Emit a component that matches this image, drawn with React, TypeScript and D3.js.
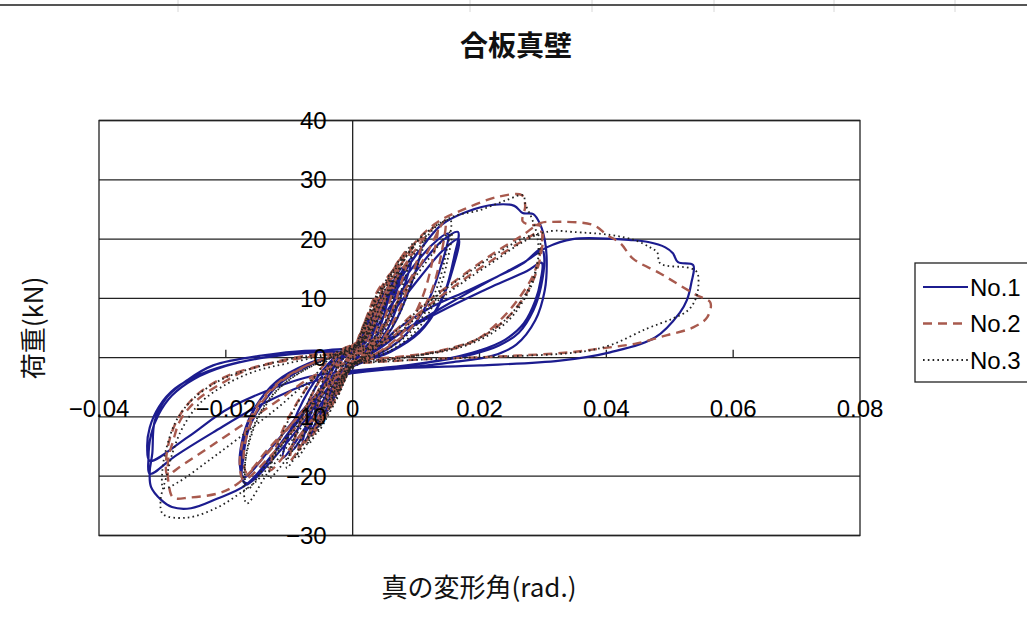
import * as d3 from "d3";

type Pt = [number, number];

// 真の変形角 (rad) / 荷重 (kN)
const no1Small: Pt[] = [
  [0, 0], [0.0008, 2.6], [0.0015, 4.2], [0.0022, 5.5], [0.0017, 3.2], [0.0009, 1.0], [0, -0.4], [-0.0008, -2.4], [-0.0015, -3.9], [-0.0022, -5.2], [-0.0017, -3.0], [-0.0009, -1.0], [0, 0.4],
  [0.0008, 2.4], [0.0018, 4.8], [0.0027, 6.8], [0.0035, 8.2], [0.0028, 5.0], [0.0016, 1.6], [0.0004, -0.6], [-0.0008, -2.4], [-0.0018, -4.8], [-0.0028, -6.6], [-0.0036, -8.0], [-0.0029, -4.8], [-0.0016, -1.4], [-0.0004, 0.5],
  [0.001, 2.8], [0.0024, 6.2], [0.0038, 9.0], [0.0049, 10.6], [0.0041, 7.0], [0.0027, 2.6], [0.0012, -0.2], [-0.0006, -1.8], [-0.0022, -5.2], [-0.004, -9.0], [-0.0056, -11.8], [-0.0046, -7.6], [-0.003, -2.8], [-0.0012, 0.3],
  [0.0008, 2.0], [0.0025, 5.6], [0.0045, 10.0], [0.0063, 13.0], [0.0054, 9.0], [0.0037, 3.4], [0.0016, 0], [-0.0004, -1.4], [-0.0025, -5.4], [-0.0048, -10.0], [-0.0068, -13.2], [-0.0058, -8.6], [-0.0038, -3.2], [-0.0014, 0.4],
  [0.001, 1.8], [0.0032, 6.2], [0.0056, 11.2], [0.0078, 15.2], [0.0067, 10.4], [0.0045, 4.0], [0.002, 0.2], [-0.0004, -1.4], [-0.003, -5.8], [-0.0056, -10.6], [-0.0079, -14.6], [-0.0067, -9.8], [-0.0043, -3.6], [-0.0016, 0.6],
  [0.0012, 2.0], [0.0038, 7.0], [0.0066, 12.4], [0.0093, 16.8], [0.008, 11.6], [0.0054, 4.6], [0.0024, 0.4], [-0.0004, -1.2], [-0.0034, -5.8], [-0.0066, -11.2], [-0.0095, -15.6], [-0.0081, -10.4], [-0.0052, -3.8], [-0.0018, 0.8],
  [0.0014, 2.2], [0.0044, 7.6], [0.0076, 13.4], [0.0107, 18.2], [0.0093, 12.6], [0.0062, 5.0], [0.0028, 0.5], [-0.0004, -1.2], [-0.004, -6.2], [-0.0076, -12.0], [-0.011, -16.9], [-0.0094, -11.0], [-0.006, -4.0], [-0.002, 0.8],
];
const no1Mid: Pt[] = [
  [0.0015, 2.4], [0.005, 8.4], [0.009, 14.6], [0.0125, 19.0], [0.015, 20.9], [0.0138, 15.0], [0.0112, 8.0], [0.0075, 3.0], [0.004, 0.6], [0.001, -0.6],
  [-0.003, -4.0], [-0.0075, -10.5], [-0.0125, -17.0], [-0.0165, -21.2], [-0.0174, -20.5], [-0.0172, -16.5], [-0.0165, -12.4], [-0.0145, -8.2], [-0.0115, -4.4], [-0.007, -1.4], [-0.003, 0.2],
  [0.0015, 2.0], [0.0055, 8.0], [0.01, 14.6], [0.014, 19.6], [0.0166, 21.2], [0.016, 17.0], [0.0145, 11.0], [0.0115, 5.6], [0.0075, 2.0], [0.0035, 0], [0, -1.0],
  [-0.004, -4.4], [-0.0085, -10.6], [-0.013, -16.8], [-0.0168, -21.4], [-0.0176, -19.6], [-0.0174, -15.6], [-0.0166, -11.4], [-0.0145, -7.0], [-0.011, -3.4], [-0.006, -0.8], [-0.002, 0.6],
  [0.002, 1.8], [0.006, 7.2], [0.0105, 13.4], [0.0145, 18.4], [0.0167, 20.0], [0.0158, 15.0], [0.0138, 9.2], [0.0105, 4.2], [0.006, 1.0], [0.002, -0.6],
  [-0.003, -3.2], [-0.008, -9.0], [-0.013, -15.4], [-0.0172, -20.2], [-0.0178, -18.0], [-0.0172, -13.0], [-0.0155, -8.6], [-0.012, -4.0], [-0.007, -1.0], [-0.002, 0.6],
];
const no1Large: Pt[] = [
  [0.002, 3.0], [0.006, 11.0], [0.0105, 18.0], [0.014, 22.4], [0.018, 24.6], [0.0224, 25.8], [0.0255, 25.6], [0.0268, 24.4], [0.0285, 24.2], [0.0296, 22.4], [0.0303, 19.8], [0.0306, 16.4], [0.0303, 11.4], [0.0288, 6.3], [0.0258, 2.2], [0.022, 0.3], [0.0155, -0.8], [0.0075, -1.8], [0, -2.6],
  [-0.004, -4.4], [-0.009, -11.0], [-0.0135, -17.6], [-0.017, -21.6], [-0.0214, -23.8], [-0.0255, -25.4], [-0.0285, -25.2], [-0.0302, -24.0], [-0.0318, -21.8], [-0.032, -19.2], [-0.0316, -16.2], [-0.0312, -10.6], [-0.0293, -6.7], [-0.0261, -3.8], [-0.022, -1.3], [-0.0141, 0.4], [-0.0056, 1.2],
  [0.002, 0.2], [0.007, 4.8], [0.0122, 8.4], [0.0175, 11.0], [0.0227, 13.6], [0.027, 16.0], [0.0298, 18.4], [0.0302, 17.0], [0.0297, 12.0], [0.0285, 8.0], [0.0262, 4.2], [0.023, 2.0], [0.019, 0.6], [0.012, -0.8], [0.005, -1.8], [0, -2.4],
  [-0.005, -3.6], [-0.0146, -8.0], [-0.022, -12.6], [-0.028, -16.6], [-0.032, -19.6], [-0.0322, -17.0], [-0.0318, -13.0], [-0.0306, -9.6], [-0.0285, -6.4], [-0.025, -3.6], [-0.02, -1.4], [-0.013, 0.2], [-0.006, 1.0], [0, 1.4],
  [0.002, 0.4], [0.008, 4.4], [0.015, 8.4], [0.022, 12.0], [0.0275, 14.6], [0.0298, 16.0], [0.0296, 12.8], [0.0288, 9.6], [0.027, 5.8], [0.024, 3.0], [0.02, 1.2], [0.013, -0.6], [0.006, -1.6], [0, -2.2],
  [-0.0075, -3.4], [-0.0193, -8.4], [-0.026, -13.4], [-0.032, -17.4], [-0.0324, -15.2], [-0.032, -11.8], [-0.0305, -8.2], [-0.028, -5.2], [-0.024, -2.8], [-0.018, -0.8], [-0.011, 0.4], [-0.004, 1.0],
];
const no1Final: Pt[] = [
  [0.002, 1.2], [0.008, 4.6], [0.015, 9.0], [0.022, 13.2], [0.0275, 16.4], [0.0306, 18.6], [0.0347, 20.0], [0.0442, 19.8], [0.0466, 19.5], [0.0493, 18.6], [0.0505, 17.6], [0.0513, 16.1], [0.0537, 15.6],
  [0.0534, 12.6], [0.0527, 9.7], [0.0516, 7.6], [0.0477, 3.4], [0.0406, 0.9], [0.0327, -0.5], [0.0201, -1.3], [0.0075, -1.8], [0, -2.6],
];

const no2Small: Pt[] = [
  [0, 0], [0.0008, 3.0], [0.0015, 5.0], [0.0022, 6.6], [0.0016, 3.6], [0.0008, 1.0], [0, -0.4], [-0.0008, -2.6], [-0.0015, -4.2], [-0.0022, -5.6], [-0.0016, -3.0], [-0.0008, -0.8], [0, 0.6],
  [0.0009, 3.0], [0.0019, 6.0], [0.0028, 8.4], [0.0036, 10.0], [0.0029, 6.2], [0.0017, 2.0], [0.0004, -0.4], [-0.0009, -2.8], [-0.0019, -5.2], [-0.0028, -7.2], [-0.0036, -8.6], [-0.0029, -5.0], [-0.0016, -1.4], [-0.0004, 0.6],
  [0.0011, 3.4], [0.0024, 7.4], [0.0036, 10.6], [0.0046, 12.2], [0.0039, 8.2], [0.0026, 3.2], [0.0011, 0], [-0.0006, -2.0], [-0.0022, -5.6], [-0.0038, -9.0], [-0.0052, -11.4], [-0.0043, -7.4], [-0.0028, -2.8], [-0.0011, 0.4],
  [0.001, 2.6], [0.0026, 7.4], [0.0044, 11.6], [0.006, 14.2], [0.0052, 10.2], [0.0035, 4.0], [0.0015, 0.2], [-0.0004, -1.6], [-0.0024, -5.6], [-0.0046, -10.2], [-0.0068, -13.6], [-0.0058, -9.0], [-0.0038, -3.4], [-0.0014, 0.6],
  [0.0012, 2.6], [0.0032, 8.0], [0.0054, 13.0], [0.0075, 16.6], [0.0065, 12.0], [0.0044, 4.8], [0.0019, 0.4], [-0.0004, -1.6], [-0.003, -6.2], [-0.0058, -11.6], [-0.0085, -15.6], [-0.0072, -10.4], [-0.0046, -3.8], [-0.0017, 0.8],
  [0.0014, 2.8], [0.0038, 9.0], [0.0064, 14.8], [0.009, 18.6], [0.0079, 13.4], [0.0053, 5.6], [0.0023, 0.6], [-0.0004, -1.4], [-0.0036, -6.8], [-0.0068, -12.6], [-0.0099, -17.4], [-0.0085, -11.6], [-0.0055, -4.4], [-0.002, 0.8],
  [0.0016, 3.0], [0.0045, 9.8], [0.0078, 16.0], [0.011, 20.2], [0.0096, 14.6], [0.0065, 6.2], [0.0029, 0.8], [-0.0004, -1.2], [-0.0044, -7.4], [-0.0088, -13.8], [-0.013, -19.0], [-0.0112, -12.6], [-0.0072, -5.0], [-0.0026, 0.8],
];
const no2Mid: Pt[] = [
  [0.002, 3.4], [0.0055, 10.8], [0.0095, 17.6], [0.0133, 22.3], [0.0127, 17.0], [0.011, 10.2], [0.0082, 4.6], [0.0045, 1.2], [0.001, -0.6],
  [-0.004, -5.2], [-0.009, -11.8], [-0.0135, -17.2], [-0.0172, -20.6], [-0.0178, -17.8], [-0.017, -12.8], [-0.015, -8.0], [-0.0115, -4.0], [-0.007, -1.2], [-0.002, 0.8],
  [0.003, 2.8], [0.0075, 10.2], [0.0112, 16.6], [0.0146, 23.2], [0.014, 17.6], [0.0122, 10.6], [0.009, 4.8], [0.005, 1.4], [0.0012, -0.6],
  [-0.004, -4.6], [-0.0095, -11.0], [-0.0135, -15.6], [-0.0167, -19.4], [-0.0172, -17.0], [-0.0165, -12.4], [-0.0145, -7.8], [-0.011, -3.8], [-0.0065, -1.0], [-0.002, 0.8],
];
const no2Large: Pt[] = [
  [0.003, 5.0], [0.006, 13.2], [0.0095, 19.0], [0.0133, 22.8], [0.0175, 25.0], [0.0228, 27.1], [0.0267, 27.4], [0.0272, 25.6], [0.0268, 23.0], [0.028, 22.4], [0.0296, 22.2], [0.0298, 19.0], [0.0285, 14.0], [0.0262, 10.0], [0.0237, 6.8], [0.0201, 3.4], [0.0165, 1.7], [0.01, 0.4], [0.004, -0.4], [0, -0.8],
  [-0.004, -4.2], [-0.009, -10.4], [-0.0135, -16.2], [-0.0182, -21.3], [-0.0209, -22.8], [-0.0257, -23.6], [-0.0283, -23.6], [-0.029, -21.4], [-0.0291, -17.3], [-0.0283, -14.0], [-0.0272, -10.6], [-0.0246, -7.2], [-0.0198, -3.8], [-0.0167, -2.1], [-0.011, -0.6], [-0.005, 0.4], [0, 1.0],
  [0.005, 2.6], [0.011, 8.0], [0.017, 12.8], [0.0225, 16.8], [0.027, 19.8], [0.0298, 21.2], [0.0296, 17.0], [0.0282, 12.4], [0.0255, 8.0], [0.0225, 5.0], [0.019, 2.8], [0.013, 1.0], [0.006, 0], [0, -0.6],
  [-0.006, -3.0], [-0.012, -7.4], [-0.018, -11.8], [-0.023, -15.4], [-0.0275, -18.6], [-0.0292, -19.8], [-0.0294, -17.0], [-0.0287, -13.2], [-0.0272, -9.6], [-0.0245, -6.2], [-0.02, -3.2], [-0.014, -1.2], [-0.007, 0.4], [0, 1.0],
];
const no2Final: Pt[] = [
  [0.005, 3.2], [0.011, 8.8], [0.017, 13.6], [0.0225, 17.8], [0.027, 20.8], [0.0296, 22.7], [0.0316, 22.9], [0.0379, 22.4], [0.0401, 20.7], [0.0422, 19.3], [0.0442, 16.7], [0.0485, 14.2], [0.0516, 12.2], [0.0543, 10.5], [0.0564, 9.3],
  [0.0559, 6.8], [0.0537, 5.1], [0.0496, 3.8], [0.0448, 2.4], [0.0395, 1.6], [0.0343, 0.9], [0.0232, 0.2], [0.0106, -0.3], [0, -1.0],
];

const no3Small: Pt[] = [
  [0, 0], [0.0008, 2.8], [0.0015, 4.8], [0.0022, 6.4], [0.0016, 3.4], [0.0008, 0.9], [0, -0.5], [-0.0008, -2.8], [-0.0015, -4.4], [-0.0022, -5.8], [-0.0016, -3.2], [-0.0008, -1.0], [0, 0.5],
  [0.0009, 2.8], [0.0019, 5.8], [0.0028, 8.2], [0.0035, 9.6], [0.0028, 5.8], [0.0016, 1.8], [0.0004, -0.5], [-0.0009, -3.0], [-0.0019, -5.6], [-0.0028, -7.6], [-0.0036, -9.0], [-0.0029, -5.4], [-0.0016, -1.6], [-0.0004, 0.5],
  [0.0011, 3.2], [0.0025, 7.2], [0.0037, 10.4], [0.0047, 12.0], [0.004, 8.0], [0.0027, 3.0], [0.0012, -0.1], [-0.0006, -2.2], [-0.0022, -6.0], [-0.0039, -9.8], [-0.0054, -12.4], [-0.0045, -8.0], [-0.0029, -3.0], [-0.0011, 0.4],
  [0.001, 2.4], [0.0027, 7.2], [0.0045, 11.6], [0.0062, 14.4], [0.0054, 10.0], [0.0036, 3.8], [0.0016, 0.1], [-0.0004, -1.8], [-0.0025, -6.0], [-0.0048, -11.0], [-0.007, -14.6], [-0.006, -9.6], [-0.0039, -3.6], [-0.0014, 0.6],
  [0.0012, 2.4], [0.0033, 7.8], [0.0056, 13.2], [0.0078, 17.0], [0.0068, 12.0], [0.0046, 4.6], [0.002, 0.3], [-0.0004, -1.8], [-0.0032, -6.8], [-0.006, -12.4], [-0.0087, -16.8], [-0.0074, -11.2], [-0.0048, -4.2], [-0.0018, 0.7],
  [0.0014, 2.6], [0.004, 9.0], [0.0068, 15.0], [0.0095, 19.2], [0.0083, 13.6], [0.0056, 5.6], [0.0024, 0.5], [-0.0004, -1.6], [-0.0038, -7.4], [-0.0072, -13.6], [-0.0104, -18.6], [-0.0089, -12.6], [-0.0058, -4.8], [-0.0021, 0.8],
  [0.0016, 2.8], [0.0048, 9.8], [0.0082, 16.6], [0.0115, 21.0], [0.01, 14.8], [0.0068, 6.2], [0.003, 0.7], [-0.0004, -1.4], [-0.0046, -8.0], [-0.009, -15.0], [-0.0132, -20.4], [-0.0114, -13.6], [-0.0074, -5.4], [-0.0027, 0.8],
];
const no3Mid: Pt[] = [
  [0.002, 3.2], [0.0058, 10.8], [0.0098, 17.6], [0.0135, 22.4], [0.0154, 23.2], [0.0148, 18.0], [0.013, 11.0], [0.0097, 5.0], [0.0055, 1.4], [0.0012, -0.6],
  [-0.0042, -6.2], [-0.0092, -13.4], [-0.0135, -19.6], [-0.0167, -24.6], [-0.0172, -21.0], [-0.0166, -15.6], [-0.0148, -10.0], [-0.0114, -5.0], [-0.0068, -1.6], [-0.002, 0.7],
  [0.003, 2.8], [0.0075, 10.0], [0.0118, 16.4], [0.0155, 21.2], [0.0149, 16.2], [0.0131, 9.8], [0.0099, 4.4], [0.0056, 1.0], [0.0015, -0.7],
  [-0.0045, -6.0], [-0.0095, -12.6], [-0.0135, -17.8], [-0.0166, -22.2], [-0.017, -19.0], [-0.0162, -13.4], [-0.014, -8.2], [-0.0104, -4.0], [-0.006, -1.2], [-0.002, 0.6],
];
const no3Large: Pt[] = [
  [0.003, 4.6], [0.0068, 13.6], [0.0101, 19.6], [0.0154, 23.6], [0.0201, 24.9], [0.0243, 26.6], [0.0269, 27.4], [0.0272, 26.0], [0.0282, 23.6], [0.029, 21.0], [0.0293, 17.6], [0.0285, 13.0], [0.0268, 9.4], [0.0245, 6.2], [0.0208, 3.4], [0.0165, 1.6], [0.01, 0.3], [0.004, -0.6], [0, -1.0],
  [-0.0045, -5.0], [-0.0095, -12.0], [-0.0146, -20.2], [-0.0178, -22.9], [-0.0214, -25.3], [-0.0261, -27.0], [-0.0299, -26.4], [-0.0303, -24.2], [-0.0293, -19.8], [-0.0283, -15.7], [-0.0268, -11.8], [-0.0241, -7.7], [-0.0198, -4.4], [-0.0151, -2.2], [-0.0104, -1.0], [-0.005, 0.2], [0, 0.9],
  [0.005, 2.4], [0.011, 7.6], [0.017, 12.4], [0.0225, 16.4], [0.027, 19.6], [0.0294, 20.6], [0.0292, 16.4], [0.0279, 12.0], [0.0252, 7.6], [0.022, 4.6], [0.0185, 2.6], [0.0125, 0.8], [0.006, -0.2], [0, -0.8],
  [-0.006, -3.4], [-0.012, -8.6], [-0.018, -13.6], [-0.023, -17.6], [-0.0275, -21.0], [-0.0298, -22.0], [-0.03, -19.0], [-0.0292, -14.6], [-0.0277, -10.4], [-0.025, -6.8], [-0.0205, -3.6], [-0.0145, -1.4], [-0.0075, 0.2], [0, 0.9],
];
const no3Final: Pt[] = [
  [0.005, 3.0], [0.011, 8.6], [0.017, 13.4], [0.0225, 17.4], [0.027, 20.2], [0.0297, 21.0], [0.0317, 21.4], [0.0347, 21.2], [0.0406, 20.7], [0.0445, 19.8], [0.0469, 18.6], [0.048, 17.8], [0.0485, 15.9], [0.0532, 15.1], [0.0543, 14.4],
  [0.0545, 11.9], [0.054, 9.7], [0.0529, 8.0], [0.0505, 6.6], [0.0464, 4.9], [0.0406, 2.1], [0.0354, 0.9], [0.0185, 0], [0.0075, -0.5], [0, -1.0],
];

const xTicks = [-0.04, -0.02, 0, 0.02, 0.04, 0.06, 0.08];
const yTicks = [-30, -20, -10, 0, 10, 20, 30, 40];
const seriesNames = ["No.1", "No.2", "No.3"];
const sheetCols = [178, 470, 592, 714, 834, 955];

const series = [
  { name: seriesNames[0], pts: [...no1Small, ...no1Mid, ...no1Large, ...no1Final], color: "#1c1c8f", width: 2.2, dash: "" },
  { name: seriesNames[1], pts: [...no2Small, ...no2Mid, ...no2Large, ...no2Final], color: "#a85a4e", width: 2.4, dash: "9,6" },
  { name: seriesNames[2], pts: [...no3Small, ...no3Mid, ...no3Large, ...no3Final], color: "#222222", width: 1.8, dash: "1.6,3.2" },
];

const W = 1027, H = 626;
const left = 99, right = 860, top = 120.5, bottom = 535.5;

export default function App() {
  const x = d3.scaleLinear().domain([-0.04, 0.08]).range([left, right]);
  const y = d3.scaleLinear().domain([-30, 40]).range([bottom, top]);
  const line = d3.line<Pt>()
    .x((d) => x(d[0]))
    .y((d) => y(d[1]))
    .curve(d3.curveCatmullRom.alpha(0.5));

  const latin = "'Liberation Sans', Arial, sans-serif";
  const cjk = "'Noto Sans CJK JP', 'Liberation Sans', sans-serif";

  return (
    <svg width={W} height={H} style={{ position: "absolute", left: 0, top: 0, background: "#fff" }}>
      {/* spreadsheet edge behind the chart */}
      {sheetCols.map((c) => (
        <line key={c} x1={c} x2={c} y1={0} y2={12} stroke="#d8d8d8" strokeWidth={1} />
      ))}
      <line x1={0} x2={W} y1={5} y2={5} stroke="#555" strokeWidth={2} />

      <text x={516} y={48} textAnchor="middle" dominantBaseline="middle" fontFamily={cjk} fontSize={28} fontWeight="bold" fill="#111">
        合板真壁
      </text>

      {/* plot area */}
      <rect x={left} y={top} width={right - left} height={bottom - top} fill="#fff" stroke="#222" strokeWidth={1.3} />
      {yTicks.map((t) => (
        <line key={t} x1={left} x2={right} y1={y(t)} y2={y(t)} stroke="#222" strokeWidth={1.3} />
      ))}
      <line x1={x(0)} x2={x(0)} y1={top} y2={bottom} stroke="#222" strokeWidth={1.3} />
      {xTicks.filter((t) => t !== 0 && t > -0.04 && t < 0.08).map((t) => (
        <line key={t} x1={x(t)} x2={x(t)} y1={y(0)} y2={y(0) - 8} stroke="#222" strokeWidth={1.3} />
      ))}

      {series.map((s) => (
        <path key={s.name} d={line(s.pts) ?? ""} fill="none" stroke={s.color} strokeWidth={s.width}
          strokeDasharray={s.dash || undefined} strokeLinejoin="round" />
      ))}

      {yTicks.map((t) => (
        <text key={t} x={x(0) - 26} y={y(t)} textAnchor="end" dominantBaseline="central" fontFamily={latin} fontSize={24} fill="#000">
          {t < 0 ? "\u2212" + Math.abs(t) : t}
        </text>
      ))}
      {xTicks.map((t) => (
        <text key={t} x={x(t)} y={408} textAnchor="middle" dominantBaseline="central" fontFamily={latin} fontSize={24} fill="#000">
          {t === 0 ? "0" : (t < 0 ? "\u2212" : "") + Math.abs(t).toFixed(2)}
        </text>
      ))}

      <text transform="translate(31,328) rotate(-90)" textAnchor="middle" dominantBaseline="central" fontFamily={cjk} fontSize={26} fill="#111">
        荷重(kN)
      </text>
      <text x={479} y={585} textAnchor="middle" dominantBaseline="central" fontFamily={cjk} fontSize={26} fill="#111">
        真の変形角(rad.)
      </text>

      {/* legend */}
      <rect x={915} y={263} width={130} height={119} fill="#fff" stroke="#222" strokeWidth={1.3} />
      {series.map((s, i) => (
        <g key={s.name}>
          <line x1={923} x2={968} y1={287 + i * 36.5} y2={287 + i * 36.5} stroke={s.color} strokeWidth={s.width}
            strokeDasharray={s.dash || undefined} />
          <text x={970} y={287 + i * 36.5} dominantBaseline="central" fontFamily={latin} fontSize={24} fill="#000">
            {s.name}
          </text>
        </g>
      ))}
    </svg>
  );
}
